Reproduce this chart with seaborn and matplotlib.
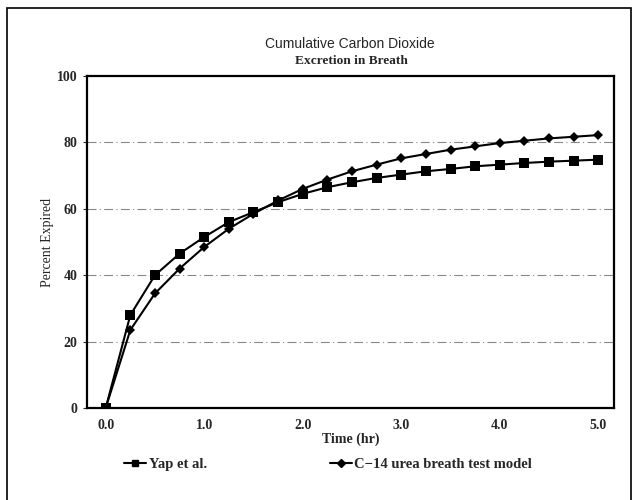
import matplotlib
matplotlib.use("Agg")
import matplotlib.pyplot as plt
import seaborn as sns
import pandas as pd
from matplotlib.patches import Rectangle
from matplotlib.ticker import MultipleLocator

time_hr = [0.0, 0.25, 0.5, 0.75, 1.0, 1.25, 1.5, 1.75, 2.0, 2.25, 2.5, 2.75,
           3.0, 3.25, 3.5, 3.75, 4.0, 4.25, 4.5, 4.75, 5.0]
yap = [0, 28, 40, 46.5, 51.5, 56, 59, 62, 64.5, 66.5, 68, 69.3,
       70.3, 71.3, 72, 72.8, 73.3, 73.8, 74.2, 74.5, 74.8]
c14 = [0, 23.5, 34.5, 42, 48.5, 54, 58.5, 62.5, 66, 68.8, 71.3, 73.3,
       75.2, 76.5, 77.8, 78.8, 79.8, 80.5, 81.2, 81.7, 82.2]
series_names = ["Yap et al.", "C\u221214 urea breath test model"]
x_ticks = [0.0, 1.0, 2.0, 3.0, 4.0, 5.0]
y_ticks = [0, 20, 40, 60, 80, 100]

df = pd.DataFrame({
    "Time": time_hr * 2,
    "Percent": yap + c14,
    "Series": [series_names[0]] * len(time_hr) + [series_names[1]] * len(time_hr),
})

sns.set_style("white")
plt.rcParams["font.family"] = ["Liberation Serif", "DejaVu Serif"]

fig = plt.figure(figsize=(6.35, 5.0), dpi=100)
ax = fig.add_axes([0.137, 0.184, 0.830, 0.664])

sns.lineplot(data=df, x="Time", y="Percent", style="Series", hue="Series",
             palette=["black", "black"], markers={series_names[0]: "s", series_names[1]: "D"},
             dashes=False, linewidth=1.5, markersize=5.5, markeredgewidth=0,
             ax=ax, legend=False)
for line, ms in zip(ax.lines, [6.5, 4.8]):
    line.set_markersize(ms)

ax.set_xlim(-0.19, 5.16)
ax.set_ylim(0, 100)
ax.set_xticks(x_ticks)
ax.set_xticklabels([f"{v:.1f}" for v in x_ticks], fontweight="bold", fontsize=10)
ax.set_yticks(y_ticks)
ax.set_yticklabels([str(v) for v in y_ticks], fontweight="bold", fontsize=10)
ax.xaxis.set_minor_locator(MultipleLocator(0.25))
ax.tick_params(axis="x", which="major", direction="in", length=4, width=0.8, pad=8)
ax.tick_params(axis="x", which="minor", direction="in", length=2.5, width=0.7)
ax.tick_params(axis="y", which="major", direction="out", length=3, width=0.8, left=True, pad=4)

for v in y_ticks[1:-1]:
    ax.axhline(v, color="#888888", linestyle=(0, (8, 3, 1, 3)), linewidth=0.8, zorder=0)

for s in ax.spines.values():
    s.set_linewidth(1.6)
    s.set_color("black")

ax.set_xlabel("Time (hr)", fontweight="bold", fontsize=10, labelpad=0)
ax.set_ylabel("Percent Expired", fontsize=10, labelpad=2)

fig.text(0.551, 0.912, "Cumulative Carbon Dioxide", ha="center", va="center",
         fontsize=10, family=["Liberation Sans", "DejaVu Sans"])
fig.text(0.553, 0.879, "Excretion in Breath", ha="center", va="center",
         fontsize=9.6, fontweight="bold")

handles = [plt.Line2D([], [], color="black", marker="s", markersize=5, linewidth=1.5),
           plt.Line2D([], [], color="black", marker="D", markersize=4, linewidth=1.5)]
fig.legend(handles, series_names, loc="center left", bbox_to_anchor=(0.175, 0.072),
           ncol=2, frameon=False, handlelength=1.5, handletextpad=0.2,
           columnspacing=8.4, prop={"family": "Liberation Serif", "weight": "bold", "size": 10.5})

fig.patches.append(Rectangle((0.011, -0.02), 0.982, 1.004, transform=fig.transFigure,
                             fill=False, edgecolor="black", linewidth=1.2))

fig.savefig("out.png", dpi=100)
